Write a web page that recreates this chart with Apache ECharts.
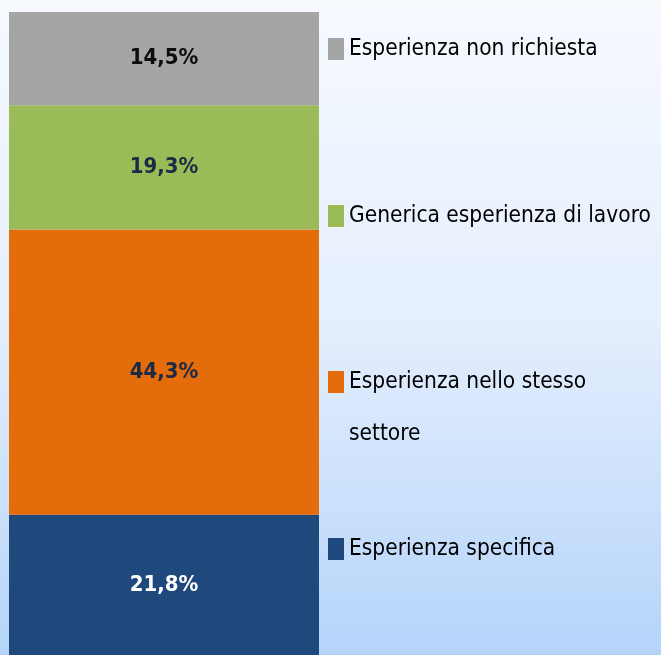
<!DOCTYPE html>
<html>
<head>
<meta charset="utf-8">
<script src="https://cdn.jsdelivr.net/npm/echarts@6/dist/echarts.min.js"></script>
<style>
  html, body { margin: 0; padding: 0; }
  #chart { width: 661px; height: 655px; }
</style>
</head>
<body>
<div id="chart"></div>
<script>
// bottom-up stacking order
const categories = ["Totale"]
const seriesNames = [
  "Esperienza specifica",
  "Esperienza nello stesso settore",
  "Generica esperienza di lavoro",
  "Esperienza non richiesta"
]
const seriesValues = [21.8, 44.3, 19.3, 14.5]
const seriesColors = ["#1F497D", "#E46C0A", "#9BBB59", "#A5A5A5"]
const labelColors = ["#FFFFFF", "#1C2B45", "#1C2B45", "#0D0D0D"]

const FONT = "'Liberation Sans Narrow', 'DejaVu Sans Condensed', 'Liberation Sans', sans-serif"
const total = seriesValues.reduce((a, b) => a + b, 0)

const chart = echarts.init(document.getElementById("chart"))

// one legend per entry so each one can sit where the original puts it.
// The long entry wraps; a blank first line keeps "Esperienza..." level with its square.
function legendFor(name, top, lineHeight) {
  return {
    data: [name],
    left: 328,
    top,
    padding: 0,
    icon: "rect",
    itemWidth: 16,
    itemHeight: 22,
    itemGap: 0,
    selectedMode: false,
    textStyle: { fontFamily: FONT, fontSize: 22.5, color: "#000", lineHeight: lineHeight || 30 },
    formatter: (n) => (n === "Esperienza nello stesso settore" ? "\nEsperienza nello stesso\nsettore" : n)
  }
}

chart.setOption({
  backgroundColor: new echarts.graphic.LinearGradient(0, 0, 0, 1, [
    { offset: 0, color: "#F7FAFF" },
    { offset: 0.5, color: "#E4EEFD" },
    { offset: 1, color: "#B4D4FA" }
  ]),
  animation: false,
  grid: { left: 9, width: 310, top: 12, bottom: -1, containLabel: false },
  legend: [
    legendFor(seriesNames[3], 34),
    legendFor(seriesNames[2], 201),
    legendFor(seriesNames[1], 304, 52),
    legendFor(seriesNames[0], 534)
  ],
  xAxis: { type: "category", data: categories, show: false },
  yAxis: { type: "value", min: 0, max: total, show: false },
  series: seriesNames.map((name, i) => ({
    name,
    type: "bar",
    stack: "tot",
    barWidth: "100%",
    barCategoryGap: 0,
    itemStyle: { color: seriesColors[i] },
    label: {
      show: true,
      position: "inside",
      fontFamily: FONT,
      fontWeight: "bold",
      fontSize: 22,
      color: labelColors[i],
      formatter: (p) => p.value.toFixed(1).replace(".", ",") + "%"
    },
    data: [seriesValues[i]]
  }))
})
</script>
</body>
</html>
